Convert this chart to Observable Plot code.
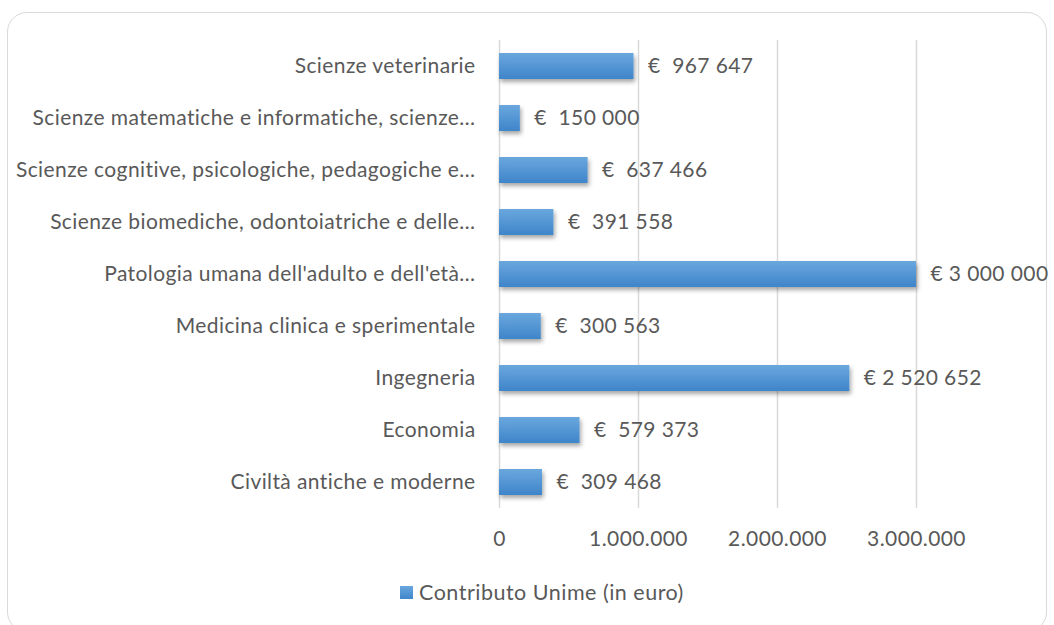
<!DOCTYPE html>
<html><head><meta charset="utf-8">
<script src="https://cdn.jsdelivr.net/npm/d3@7"></script>
<script src="https://cdn.jsdelivr.net/npm/@observablehq/plot@0.6"></script>
<style>
body{margin:0;background:#fff;font-family:Lato, "Open Sans", sans-serif;}
#wrap{position:relative;width:1054px;height:625px;overflow:hidden;background:#fff}
#frame{position:absolute;left:7px;top:12px;width:1040px;height:620px;border:1.5px solid #d9d9d9;border-radius:20px;box-sizing:border-box}
#chart{position:absolute;left:0;top:0}
#chart svg text{letter-spacing:0.4px}
#legend{position:absolute;top:580px;left:400px;height:24px;display:flex;align-items:center;font-size:21.5px;letter-spacing:0.5px;color:#595959;white-space:nowrap}
#legend .sw{width:13px;height:13px;background:linear-gradient(#6aa6de,#3f86cb);margin-right:6px}
</style></head>
<body>
<div id="wrap">
  <div id="frame"></div>
  <div id="chart"></div>
  <div id="legend"><span class="sw"></span><span id="legtext"></span></div>
</div>
<script>
const categories = [
  "Scienze veterinarie",
  "Scienze matematiche e informatiche, scienze…",
  "Scienze cognitive, psicologiche, pedagogiche e…",
  "Scienze biomediche, odontoiatriche e delle…",
  "Patologia umana dell'adulto e dell'età…",
  "Medicina clinica e sperimentale",
  "Ingegneria",
  "Economia",
  "Civiltà antiche e moderne"
];
const values = [967647, 150000, 637466, 391558, 3000000, 300563, 2520652, 579373, 309468];
const xTicks = [0, 1000000, 2000000, 3000000];
const seriesName = "Contributo Unime (in euro)";

const data = categories.map((c, i) => ({cat: c, value: values[i]}));
const euro = v => "€" + (v < 1e6 ? "\u00a0\u00a0" : "\u00a0") + d3.format(",")(v).replace(/,/g, "\u00a0");

const chart = Plot.plot({
  width: 1054, height: 560,
  marginLeft: 499, marginRight: 138, marginTop: 40, marginBottom: 52,
  style: {fontFamily: "Lato, 'Open Sans', sans-serif", fontSize: "21px", color: "#595959", background: "transparent", overflow: "visible"},
  x: {domain: [0, 3000000], ticks: xTicks, tickFormat: d => d3.format(",")(d).replace(/,/g, "."), tickSize: 0, tickPadding: 23, label: null},
  y: {domain: categories, paddingInner: 0.5, paddingOuter: 0.25, tickSize: 0, tickPadding: 24, label: null},
  marks: [
    Plot.gridX(xTicks, {stroke: "#d9d9d9", strokeOpacity: 1, strokeWidth: 1.5}),
    Plot.barX(data, {x: "value", y: "cat", fill: "url(#barGrad)"}),
    Plot.text(data, {x: "value", y: "cat", text: d => euro(d.value), textAnchor: "start", dx: 14, fill: "#595959", fontSize: 21})
  ]
});

const svg = d3.select(chart);
const defs = svg.insert("defs", ":first-child");
const g = defs.append("linearGradient").attr("id", "barGrad").attr("x1", 0).attr("y1", 0).attr("x2", 0).attr("y2", 1);
g.append("stop").attr("offset", "0%").attr("stop-color", "#6ba7de");
g.append("stop").attr("offset", "100%").attr("stop-color", "#3e85ca");
const f = defs.append("filter").attr("id", "barShadow").attr("x", "-10%").attr("y", "-30%").attr("width", "130%").attr("height", "190%");
f.append("feDropShadow").attr("dx", 1.5).attr("dy", 3).attr("stdDeviation", 2).attr("flood-color", "#000").attr("flood-opacity", 0.35);
svg.selectAll("g[aria-label='bar'] rect").attr("filter", "url(#barShadow)");

document.getElementById("chart").appendChild(chart);
document.getElementById("legtext").textContent = seriesName;
</script>
</body></html>
